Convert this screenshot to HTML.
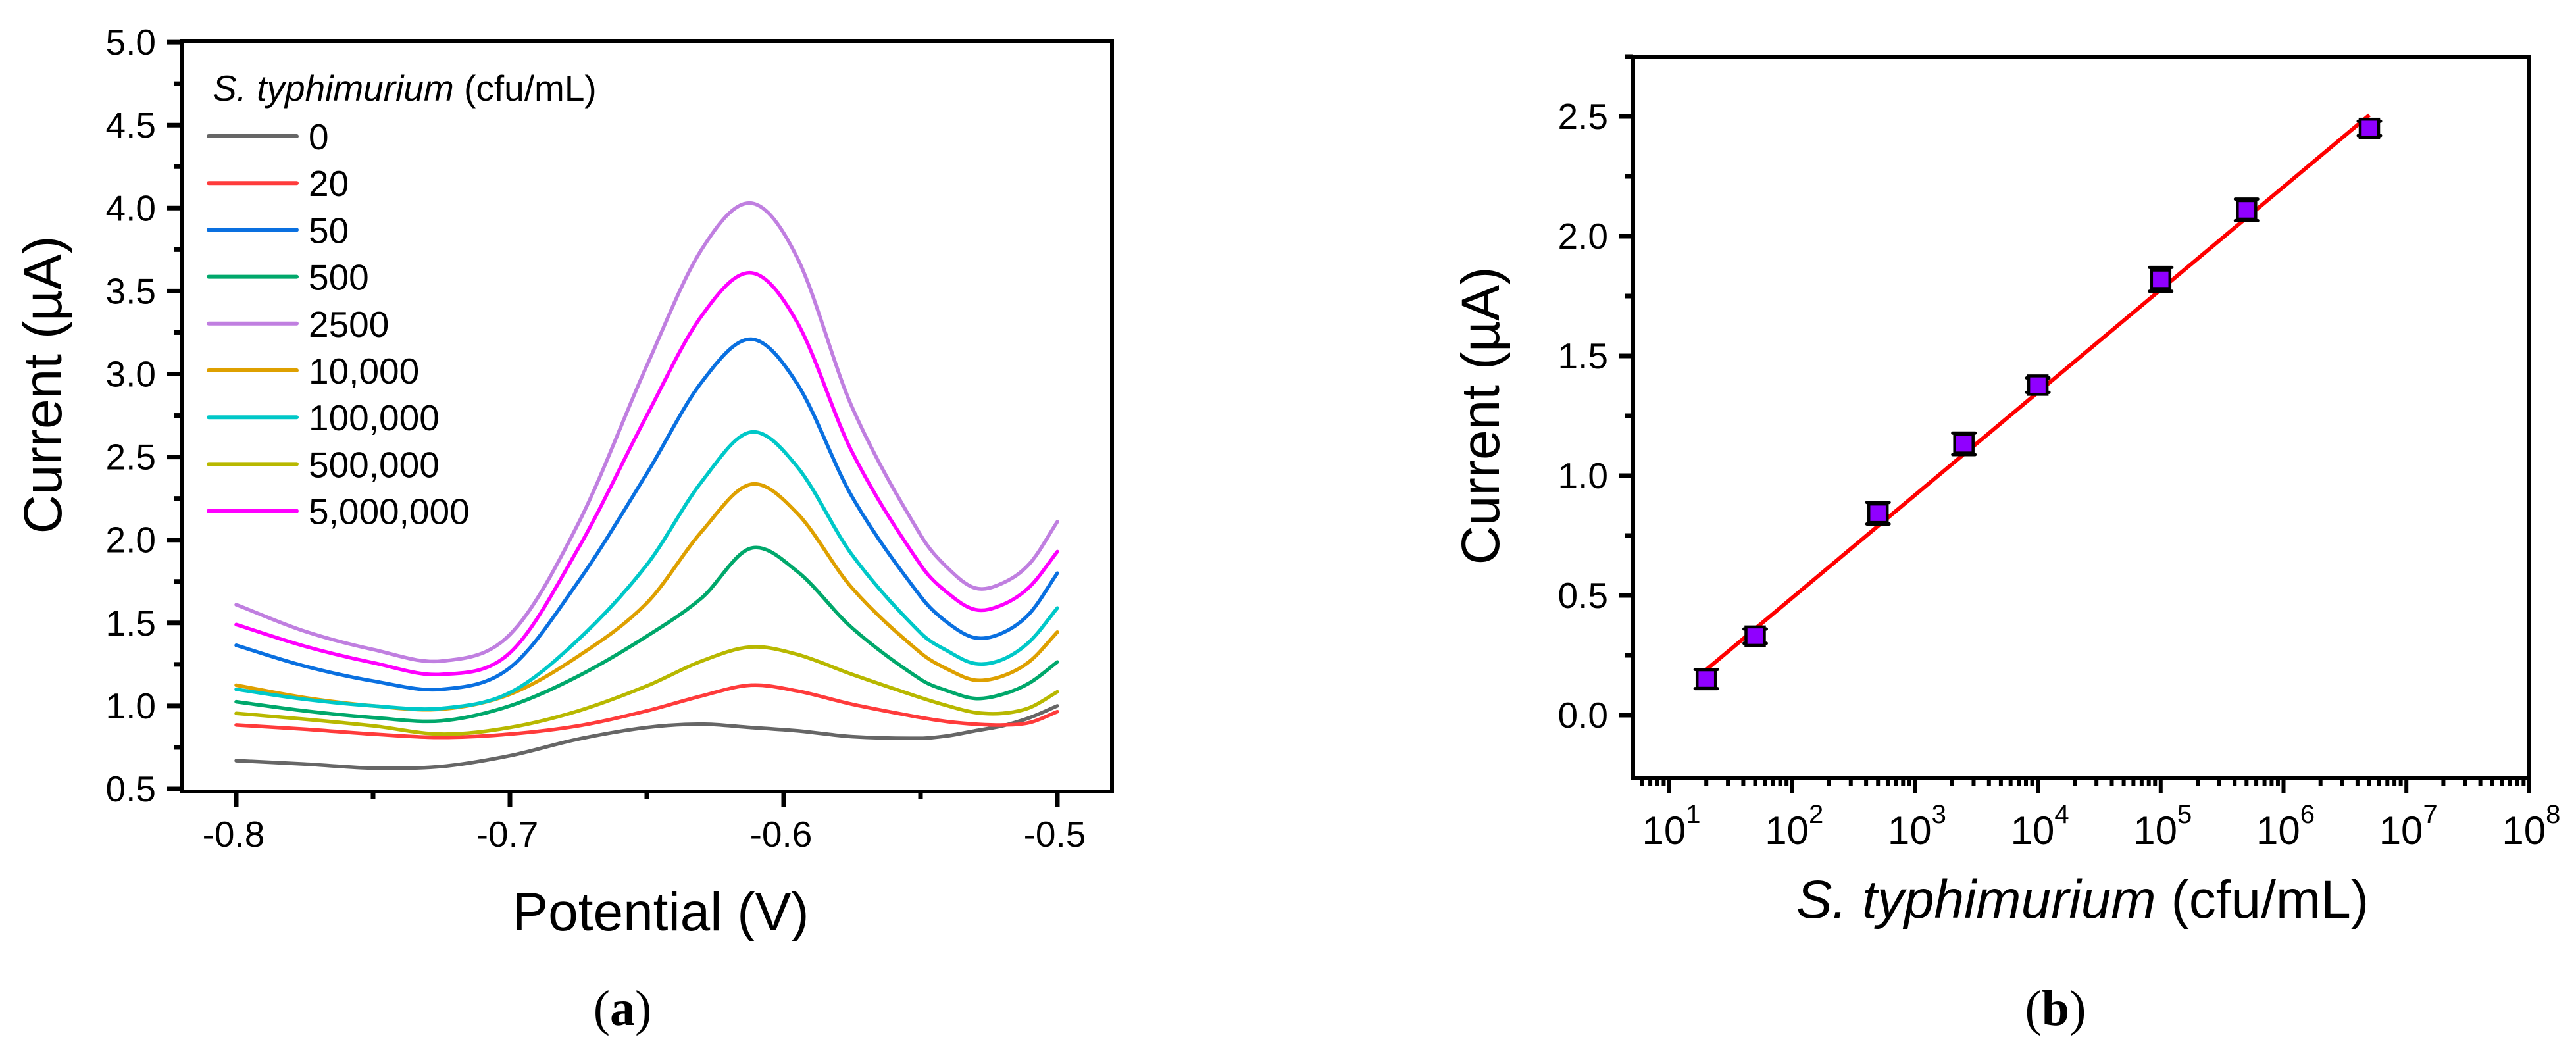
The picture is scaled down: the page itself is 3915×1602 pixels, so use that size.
<!DOCTYPE html>
<html><head><meta charset="utf-8">
<style>
html,body{margin:0;padding:0;background:#fff;}
svg{display:block;font-family:"Liberation Sans",Arial,sans-serif;}
</style></head>
<body>
<svg id="fig" width="3915" height="1602" viewBox="0 0 3915 1602" xmlns="http://www.w3.org/2000/svg">
<rect x="0" y="0" width="3915" height="1602" fill="#fff"/>
<g id="pa"></g>
<g id="pb"></g>
</svg>
<script>
// ---------- Panel (a) data ----------
const potentials = [-0.80,-0.775,-0.75,-0.725,-0.70,-0.675,-0.65,-0.63,-0.612,-0.595,-0.575,-0.55,-0.54,-0.53,-0.52,-0.51,-0.50];
const seriesNames = ["0","20","50","500","2500","10,000","100,000","500,000","5,000,000"];
const seriesColors = ["#666666","#ff3b3b","#0a70e0","#00a86b","#c07fe0","#dea000","#00c8c8","#b8b800","#ff00ff"];
const cur0 =      [0.67,0.65,0.625,0.635,0.70,0.80,0.87,0.89,0.87,0.85,0.815,0.805,0.82,0.85,0.88,0.93,1.0];
const cur20 =     [0.885,0.86,0.83,0.81,0.83,0.88,0.97,1.06,1.125,1.09,1.01,0.93,0.905,0.89,0.885,0.90,0.965];
const cur50 =     [1.365,1.24,1.15,1.10,1.23,1.75,2.40,2.95,3.21,2.94,2.26,1.66,1.50,1.41,1.44,1.56,1.80];
const cur500 =    [1.025,0.97,0.93,0.91,1.00,1.18,1.42,1.65,1.95,1.81,1.47,1.16,1.09,1.045,1.07,1.14,1.265];
const cur2500 =   [1.61,1.45,1.34,1.27,1.43,2.10,3.05,3.75,4.03,3.70,2.80,2.03,1.83,1.71,1.74,1.86,2.11];
const cur10k =    [1.125,1.05,1.00,0.98,1.07,1.30,1.62,2.05,2.335,2.16,1.71,1.32,1.22,1.155,1.18,1.27,1.445];
const cur100k =   [1.10,1.04,1.00,0.985,1.08,1.40,1.85,2.35,2.65,2.44,1.91,1.44,1.33,1.255,1.28,1.39,1.59];
const cur500k =   [0.955,0.92,0.88,0.83,0.87,0.97,1.12,1.27,1.355,1.31,1.19,1.05,1.0,0.96,0.955,0.99,1.085];
const cur5M =     [1.49,1.36,1.26,1.19,1.32,1.95,2.75,3.35,3.61,3.31,2.53,1.85,1.68,1.58,1.61,1.72,1.93];
const seriesValues = [cur0,cur20,cur50,cur500,cur2500,cur10k,cur100k,cur500k,cur5M];
const aXTicks = [-0.8,-0.7,-0.6,-0.5];
const aXTickLabels = ["-0.8","-0.7","-0.6","-0.5"];
const aYTicks = [0.5,1.0,1.5,2.0,2.5,3.0,3.5,4.0,4.5,5.0];
const aYTickLabels = ["0.5","1.0","1.5","2.0","2.5","3.0","3.5","4.0","4.5","5.0"];

// ---------- Panel (b) data ----------
const conc = [20,50,500,2500,10000,100000,500000,5000000];
const peakCurrent = [0.151,0.33,0.843,1.133,1.378,1.82,2.11,2.45];
const peakErr = [0.04,0.03,0.045,0.045,0.03,0.05,0.045,0.03];
const fitSlope = [0.429];
const fitIntercept = [-0.368];
const fitRange = [20,5000000];
const bYTicks = [0.0,0.5,1.0,1.5,2.0,2.5];
const bYTickLabels = ["0.0","0.5","1.0","1.5","2.0","2.5"];
const bXDecades = [1,2,3,4,5,6,7,8];

const NS="http://www.w3.org/2000/svg";
function mk(parent, tag, attrs){const e=document.createElementNS(NS,tag);for(const k in attrs)e.setAttribute(k,attrs[k]);parent.appendChild(e);return e;}
// Hermite spline with non-uniform-aware tangents
function smooth(pts){
  const n=pts.length, m=[];
  for(let i=0;i<n;i++){
    const a=pts[Math.max(0,i-1)], b=pts[Math.min(n-1,i+1)];
    m.push((b[1]-a[1])/(b[0]-a[0]));
  }
  let d="M"+pts[0][0].toFixed(1)+","+pts[0][1].toFixed(1);
  for(let i=0;i<n-1;i++){
    const p1=pts[i],p2=pts[i+1],h=p2[0]-p1[0];
    const c1=[p1[0]+h/3,p1[1]+m[i]*h/3];
    const c2=[p2[0]-h/3,p2[1]-m[i+1]*h/3];
    d+=" C"+c1[0].toFixed(1)+","+c1[1].toFixed(1)+" "+c2[0].toFixed(1)+","+c2[1].toFixed(1)+" "+p2[0].toFixed(1)+","+p2[1].toFixed(1);
  }
  return d;
}

// ---------- Panel (a) ----------
(function(){
  const g=document.getElementById('pa');
  const L=277,R=1690,T=63,B=1203;
  const xs=v=>359+(v+0.8)*4160;
  const ys=v=>1199-(v-0.5)*252.2;
  const cg=mk(g,'g',{});
  
  
  seriesValues.forEach((vals,i)=>{
    const pts=vals.map((v,j)=>[xs(potentials[j]),ys(v)]);
    const p=mk(cg,'path',{d:smooth(pts),fill:'none',stroke:seriesColors[i],'stroke-width':5.5,'stroke-linejoin':'round','stroke-linecap':'round'});
    
    
  });
  const fr=mk(g,'rect',{x:L,y:T,width:R-L,height:B-T,fill:'none',stroke:'#000','stroke-width':6});
  
  
  for(let v=0.5;v<=5.001;v+=0.25){
    const major=Math.abs(v*2-Math.round(v*2))<1e-6;
    mk(g,'line',{x1:L-(major?23:12),x2:L,y1:ys(v),y2:ys(v),stroke:'#000','stroke-width':7});
  }
  aYTicks.forEach((v,i)=>{
    const t=mk(g,'text',{x:237,y:ys(v)+19,'font-size':55,'text-anchor':'end',fill:'#000'});
    t.textContent=aYTickLabels[i];
    
    
  });
  [-0.8,-0.75,-0.7,-0.65,-0.6,-0.55,-0.5].forEach(v=>{
    const major=Math.abs(v*10-Math.round(v*10))<1e-6;
    mk(g,'line',{x1:xs(v),x2:xs(v),y1:B,y2:B+(major?23:12),stroke:'#000','stroke-width':7});
  });
  aXTicks.forEach((v,i)=>{
    const t=mk(g,'text',{x:xs(v)-4,y:1287,'font-size':55,'text-anchor':'middle',fill:'#000'});
    t.textContent=aXTickLabels[i];
    
    
  });
  const xt=mk(g,'text',{x:1004,y:1414,'font-size':82,'text-anchor':'middle',fill:'#000'});
  xt.textContent='Potential (V)';
  
  
  const yt=mk(g,'text',{x:0,y:0,'font-size':82,'text-anchor':'middle',fill:'#000',transform:'translate(93,585) rotate(-90)'});
  yt.textContent='Current (µA)';
  
  
  const lg=mk(g,'g',{});
  
  
  const lt=mk(lg,'text',{x:323,y:153,'font-size':55,fill:'#000'});
  lt.innerHTML='<tspan font-style="italic">S. typhimurium</tspan> (cfu/mL)';
  
  
  seriesNames.forEach((n,i)=>{
    const y=207+i*71.2;
    const ln=mk(lg,'line',{x1:317,x2:451,y1:y,y2:y,stroke:seriesColors[i],'stroke-width':6,'stroke-linecap':'round'});
    
    
    const tx=mk(lg,'text',{x:469,y:y+20,'font-size':55,fill:'#000'});
    tx.textContent=n;
    
    
  });
  const cap=mk(g,'text',{x:946,y:1558,'font-size':76,'text-anchor':'middle',fill:'#000','font-family':'"Liberation Serif",serif'});
  cap.innerHTML='(<tspan font-weight="bold">a</tspan>)';
  
  
})();

// ---------- Panel (b) ----------
(function(){
  const g=document.getElementById('pb');
  const L=2482,R=3844,T=86,B=1183;
  const xs=v=>2537+(Math.log10(v)-1)*186.7;
  const ys=v=>1087-v*364;
  const fr=mk(g,'rect',{x:L,y:T,width:R-L,height:B-T,fill:'none',stroke:'#000','stroke-width':6});
  
  
  for(let v=0;v<=2.751;v+=0.25){
    const major=Math.abs(v*2-Math.round(v*2))<1e-6;
    mk(g,'line',{x1:L-(major?22:12),x2:L,y1:ys(v),y2:ys(v),stroke:'#000','stroke-width':7});
  }
  bYTicks.forEach((v,i)=>{
    const t=mk(g,'text',{x:2444,y:ys(v)+19,'font-size':55,'text-anchor':'end',fill:'#000'});
    t.textContent=bYTickLabels[i];
    
    
  });
  for(let d=0;d<=7;d++){
    for(let m=1;m<=9;m++){
      const v=m*Math.pow(10,d);
      const x=xs(v);
      if(x<L+2||x>R+1)continue;
      mk(g,'line',{x1:x,x2:x,y1:B,y2:B+(m===1?22:11),stroke:'#000','stroke-width':6});
    }
  }
  mk(g,'line',{x1:xs(1e8),x2:xs(1e8),y1:B,y2:B+22,stroke:'#000','stroke-width':6});
  bXDecades.forEach(e=>{
    const t=mk(g,'text',{x:xs(Math.pow(10,e))+3,y:1283,'font-size':60,'text-anchor':'middle',fill:'#000'});
    t.innerHTML='10<tspan dy="-32" font-size="40">'+e+'</tspan>';
    
    
  });
  const f=x=>fitSlope[0]*Math.log10(x)+fitIntercept[0];
  const fl=mk(g,'line',{x1:xs(fitRange[0]),y1:ys(f(fitRange[0])),x2:xs(fitRange[1]),y2:ys(f(fitRange[1])),stroke:'#ff0000','stroke-width':6});
  
  
  conc.forEach((c,i)=>{
    const x=xs(c),y=ys(peakCurrent[i]),e=peakErr[i]*364;
    const pg=mk(g,'g',{});
    
    
    mk(pg,'line',{x1:x,x2:x,y1:y-e,y2:y+e,stroke:'#000','stroke-width':5});
    mk(pg,'line',{x1:x-17,x2:x+17,y1:y-e,y2:y-e,stroke:'#000','stroke-width':5,'stroke-linecap':'round'});
    mk(pg,'line',{x1:x-17,x2:x+17,y1:y+e,y2:y+e,stroke:'#000','stroke-width':5,'stroke-linecap':'round'});
    mk(pg,'rect',{x:x-14,y:y-14,width:28,height:28,fill:'#9000ff',stroke:'#000','stroke-width':4.5});
  });
  const xt=mk(g,'text',{x:3165,y:1395,'font-size':82,'text-anchor':'middle',fill:'#000'});
  xt.innerHTML='<tspan font-style="italic">S. typhimurium</tspan> (cfu/mL)';
  
  
  const yt=mk(g,'text',{x:0,y:0,'font-size':82,'text-anchor':'middle',fill:'#000',transform:'translate(2278,632) rotate(-90)'});
  yt.textContent='Current (µA)';
  
  
  const cap=mk(g,'text',{x:3124,y:1558,'font-size':76,'text-anchor':'middle',fill:'#000','font-family':'"Liberation Serif",serif'});
  cap.innerHTML='(<tspan font-weight="bold">b</tspan>)';
  
  
})();
</script>
</body></html>
